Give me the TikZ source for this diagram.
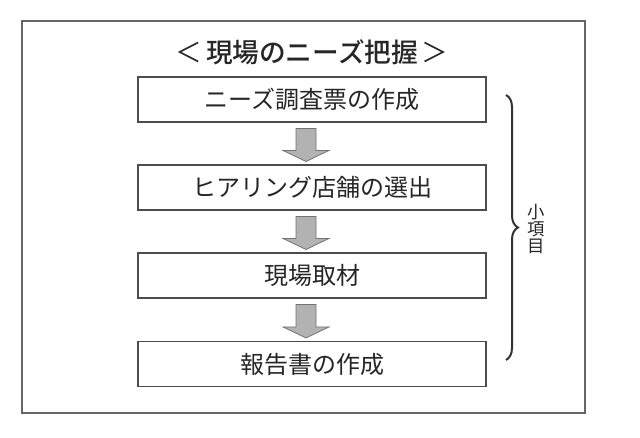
\documentclass[tikz,border=0pt]{standalone}
\usepackage{fontspec}
\usepackage{tikz}
\usetikzlibrary{calc,decorations.pathreplacing}
\newfontfamily\cjk{Noto Sans CJK JP}
\newfontfamily\cjkmed{Noto Sans CJK JP Medium}
\tikzstyle{frame}=[draw=black!60,line width=0.8pt]
\tikzstyle{stagebox}=[draw=black!70,line width=0.8pt,minimum width=261pt,minimum height=33.75pt,inner sep=0pt,
  font=\cjk\fontsize{18pt}{20pt}\selectfont,text=black!85]
\tikzstyle{blockarrow}=[draw=black!55,fill=black!30,line width=0.6pt,
  to path={($(\tikztostart)+(-10,6)$) -- ($(\tikztostart)+(10,6)$) -- ($(\tikztotarget)+(10,-14)$)
    -- ($(\tikztotarget)+(23,-14)$) -- ($(\tikztotarget)+(0,-3)$) -- ($(\tikztotarget)+(-23,-14)$)
    -- ($(\tikztotarget)+(-10,-14)$) -- cycle}]
\tikzstyle{sidebrace}=[draw=black!80,line width=1.5pt,decorate,decoration={brace,amplitude=9pt}]

\begin{document}
\begin{tikzpicture}[x=0.75pt,y=-0.75pt]
    \useasboundingbox (0,0) rectangle (640,438);
    % outer frame and heading
    \draw[frame] (22,21) rectangle (585,413);
    \node[font=\cjkmed\fontsize{20pt}{22pt}\selectfont,text=black!85] (title) at (312,52)
        {{\cjk ＜}\hspace{3pt}現場のニーズ把握\hspace{3pt}{\cjk ＞}};
    % the four steps
    \foreach \pos/\name/\text in {{(312,99.5)/survey/ニーズ調査票の作成}, {(312,187.5)/shops/ヒアリング店舗の選出},
        {(312,275.5)/visit/現場取材}, {(312,364)/report/報告書の作成}}
        \node[stagebox] (\name) at \pos {\text};
    % arrows between the steps
    \foreach \source/ \dest in {survey/shops, shops/visit, visit/report}
        \path[blockarrow] ([xshift=-4.5pt]\source.south) to ([xshift=-4.5pt]\dest.north);
    % brace with its label
    \coordinate (bracetop) at (506,95);
    \coordinate (bracebot) at (506,360);
    \path[sidebrace] (bracetop) -- (bracebot);
    \node[font=\cjk\fontsize{13pt}{12.75pt}\selectfont,align=center,text=black!85] (items) at (536,229) {小\\項\\目};
\end{tikzpicture}
\end{document}
